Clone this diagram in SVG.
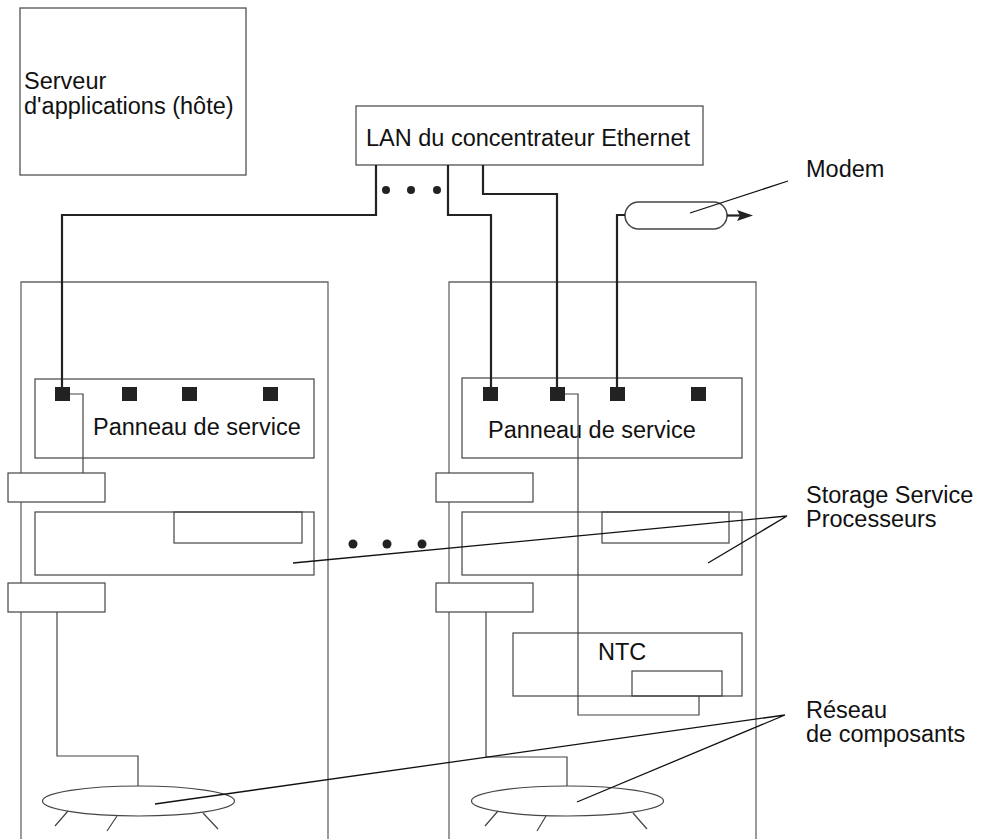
<svg xmlns="http://www.w3.org/2000/svg" width="990" height="839" viewBox="0 0 990 839">
<defs>
<style>
.box{fill:none;stroke:#444;stroke-width:1.2}
.rack{fill:none;stroke:#666;stroke-width:1.3}
.cable{fill:none;stroke:#222;stroke-width:2.2}
.thin{fill:none;stroke:#444;stroke-width:1.2}
.lead{fill:none;stroke:#111;stroke-width:1.3}
.port{fill:#222}
.dot{fill:#222}
.head{fill:#222;stroke:none}
text{font-family:"Liberation Sans",Arial,sans-serif;font-size:23.5px;fill:#111}
</style>
</defs>
<rect width="990" height="839" fill="#fff"/>

<g id="server">
<rect class="box" x="20" y="8" width="226" height="167"/>
<text x="24" y="89">Serveur</text>
<text x="24" y="114">d'applications (hôte)</text>
</g>

<g id="lan-hub">
<rect class="box" x="356" y="106" width="347" height="59"/>
<text x="366" y="146">LAN du concentrateur Ethernet</text>
</g>

<g id="modem">
<rect class="box" x="625" y="202" width="102" height="27" rx="13.5" ry="13.5" style="stroke-width:1.5"/>
<text x="806" y="177">Modem</text>
</g>

<g id="rack-left">
<path class="rack" d="M21,839 V282 H328 V839"/>
<g id="panel-left">
<rect class="box" x="35" y="379" width="279" height="79"/>
<rect class="port" x="55" y="387" width="15" height="14"/>
<rect class="port" x="122" y="387" width="15" height="14"/>
<rect class="port" x="182" y="387" width="15" height="14"/>
<rect class="port" x="263" y="387" width="15" height="14"/>
<text x="93" y="435">Panneau de service</text>
</g>
<rect id="slot-left-1" class="box" x="8" y="473" width="97" height="29" style="fill:#fff"/>
<g id="ssp-left">
<rect class="box" x="35" y="512" width="279" height="63"/>
<rect class="box" x="174" y="512" width="128" height="31"/>
</g>
<rect id="slot-left-2" class="box" x="8" y="583" width="97" height="29" style="fill:#fff"/>
<g id="net-left">
<ellipse class="box" cx="138.5" cy="801" rx="96" ry="15"/>
<path class="thin" d="M68,811 L55,826 M117,816 L107,831 M203,813 L218,829"/>
</g>
</g>

<g id="rack-right">
<path class="rack" d="M449,839 V282 H756 V839"/>
<g id="panel-right">
<rect class="box" x="462" y="378" width="280" height="80"/>
<rect class="port" x="483" y="387" width="15" height="14"/>
<rect class="port" x="550" y="387" width="15" height="14"/>
<rect class="port" x="610" y="387" width="15" height="14"/>
<rect class="port" x="691" y="387" width="15" height="14"/>
<text x="488" y="438">Panneau de service</text>
</g>
<rect id="slot-right-1" class="box" x="436" y="473" width="97" height="29" style="fill:#fff"/>
<g id="ssp-right">
<rect class="box" x="462" y="512" width="280" height="63"/>
<rect class="box" x="602" y="512" width="127" height="31"/>
</g>
<rect id="slot-right-2" class="box" x="436" y="583" width="97" height="29" style="fill:#fff"/>
<g id="ntc">
<rect class="box" x="513" y="633" width="229" height="63"/>
<rect class="box" x="632" y="671" width="90" height="25"/>
<text x="598" y="660">NTC</text>
</g>
<g id="net-right">
<ellipse class="box" cx="567.5" cy="801" rx="96" ry="15"/>
<path class="thin" d="M498,811 L485,826 M546,816 L537,831 M633,813 L647,829"/>
</g>
</g>

<g id="labels">
<text x="806" y="503">Storage Service</text>
<text x="806" y="527">Processeurs</text>
<text x="806" y="718">Réseau</text>
<text x="806" y="742">de composants</text>
</g>

<g id="connectors">
<path class="cable" d="M376,165 V215 H62 V387"/>
<path class="cable" d="M448,165 V215 H491 V387"/>
<path class="cable" d="M483,165 V194 H557 V387"/>
<path class="cable" d="M617,387 V215 H625"/>
<path class="cable" d="M727,215.5 H741"/>
<path class="head" d="M737,210 L753,215.5 L737,221 L740,215.5 z"/>
<path class="thin" d="M70,394 H83 V473"/>
<path class="thin" d="M565,394 H578 V715 H699 V696"/>
<path class="thin" d="M57,612 V756 H138 V786"/>
<path class="thin" d="M486,612 V757 H567 V786"/>
<path class="lead" d="M690,213 L788,181"/>
<path class="lead" d="M293,563 L787,516 L708,563"/>
<path class="lead" d="M155,804 L785,715 L577,802"/>
<circle class="dot" cx="386" cy="190" r="4"/>
<circle class="dot" cx="411" cy="190" r="4"/>
<circle class="dot" cx="437" cy="190" r="4"/>
<circle class="dot" cx="353" cy="544" r="4.5"/>
<circle class="dot" cx="387" cy="544" r="4.5"/>
<circle class="dot" cx="422" cy="544" r="4.5"/>
</g>
</svg>
